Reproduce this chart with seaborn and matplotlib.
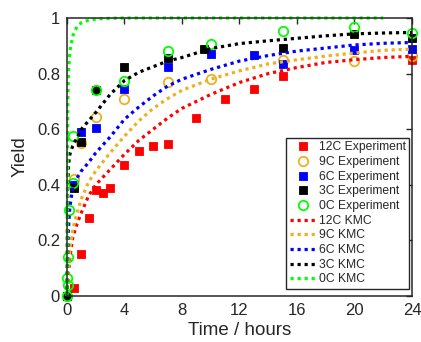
import matplotlib
matplotlib.use("Agg")
import matplotlib.pyplot as plt
import seaborn as sns
import numpy as np

# ---- Experimental data ----
t12 = [0.5, 1, 1.5, 2, 2.5, 3, 4, 5, 6, 7, 9, 11, 13, 15, 24]
y12 = [0.03, 0.15, 0.28, 0.38, 0.37, 0.39, 0.47, 0.52, 0.54, 0.545, 0.64, 0.71, 0.745, 0.79, 0.85]

t9 = [0, 0.5, 1, 2, 4, 7, 10, 15, 20, 24]
y9 = [0, 0.42, 0.55, 0.645, 0.71, 0.77, 0.78, 0.85, 0.845, 0.865]

t6 = [0, 0.5, 1, 2, 4, 7, 10, 13, 15, 20, 24]
y6 = [0, 0.40, 0.59, 0.605, 0.745, 0.825, 0.87, 0.868, 0.835, 0.885, 0.89]

t3 = [0, 0.5, 1, 2, 4, 7, 9.5, 15, 20, 24]
y3 = [0, 0.39, 0.553, 0.74, 0.825, 0.856, 0.888, 0.892, 0.942, 0.928]

t0 = [0, 0.05, 0.02, 0.07, 0.14, 0.42, 0.42, 2, 4, 7, 10, 15, 20, 24]
y0 = [0, 0.038, 0.063, 0.14, 0.308, 0.405, 0.577, 0.74, 0.775, 0.88, 0.906, 0.952, 0.967, 0.946]

# ---- KMC curves ----
tk = [0, 0.05, 0.1, 0.2, 0.4, 0.7, 1, 1.5, 2, 3, 4, 5, 6, 7, 8, 10, 12, 14, 16, 18, 20, 22, 24]
k12 = [0, 0.05, 0.08, 0.14, 0.21, 0.26, 0.3, 0.36, 0.40, 0.455, 0.51, 0.56, 0.60, 0.64, 0.675, 0.725, 0.768, 0.80, 0.822, 0.84, 0.85, 0.858, 0.862]
k9 = [0, 0.06, 0.10, 0.17, 0.24, 0.30, 0.35, 0.41, 0.45, 0.515, 0.575, 0.63, 0.675, 0.71, 0.74, 0.78, 0.81, 0.835, 0.85, 0.863, 0.874, 0.884, 0.888]
k6 = [0, 0.15, 0.24, 0.32, 0.39, 0.425, 0.45, 0.48, 0.515, 0.572, 0.636, 0.68, 0.72, 0.755, 0.78, 0.815, 0.845, 0.865, 0.881, 0.892, 0.903, 0.909, 0.912]
k3 = [0, 0.38, 0.47, 0.51, 0.54, 0.57, 0.60, 0.63, 0.66, 0.725, 0.775, 0.805, 0.825, 0.845, 0.858, 0.89, 0.908, 0.918, 0.927, 0.936, 0.943, 0.946, 0.948]
tk0 = [0, 0.03, 0.06, 0.1, 0.2, 0.4, 0.7, 1, 1.5, 2, 3, 4, 6, 8, 10, 12, 14, 16, 18, 20, 22]
k0 = [0, 0.4, 0.7, 0.8, 0.88, 0.935, 0.97, 0.983, 0.992, 0.996, 0.999, 1, 1, 1, 1, 1, 1, 1, 1, 1, 1]

RED = "#ff0000"
ORANGE = "#edb120"
BLUE = "#0000ff"
BLACK = "#000000"
GREEN = "#00ff00"
AXC = "#262626"

sns.set_style("white")
plt.rcParams["font.family"] = ["Liberation Sans", "DejaVu Sans"]

fig = plt.figure(figsize=(4.21, 3.42), dpi=100)
ax = fig.add_axes([67 / 421, 1 - 296 / 342, (412 - 67) / 421, (296 - 18) / 342])

exp_specs = [
    (t12, y12, RED, "s", True, "12C Experiment"),
    (t9, y9, ORANGE, "o", False, "9C Experiment"),
    (t6, y6, BLUE, "s", True, "6C Experiment"),
    (t3, y3, BLACK, "s", True, "3C Experiment"),
    (t0, y0, GREEN, "o", False, "0C Experiment"),
]
handles = []
for t, y, c, m, filled, lab in exp_specs:
    sns.lineplot(x=t, y=y, ax=ax, estimator=None, sort=False, linestyle="",
                 marker=m, markersize=6.0 if filled else 6.8,
                 markerfacecolor=c if filled else "none",
                 markeredgecolor=c, markeredgewidth=0.6 if filled else 1.3,
                 color=c, label=lab, legend=False)
    ln = ax.lines[-1]
    ln.set_clip_on(False)
    handles.append(ln)

kmc_specs = [
    (tk, k12, RED, "12C KMC"),
    (tk, k9, ORANGE, "9C KMC"),
    (tk, k6, BLUE, "6C KMC"),
    (tk, k3, BLACK, "3C KMC"),
    (tk0, k0, GREEN, "0C KMC"),
]
for t, y, c, lab in kmc_specs:
    sns.lineplot(x=t, y=y, ax=ax, estimator=None, sort=False, color=c,
                 linewidth=2.3, linestyle=(0, (1, 1.2)), label=lab, legend=False)
    ln = ax.lines[-1]
    ln.set_clip_on(False)
    handles.append(ln)

ax.set_xlim(0, 24)
ax.set_ylim(0, 1)
ax.set_xticks([0, 4, 8, 12, 16, 20, 24])
ax.set_yticks([0, 0.2, 0.4, 0.6, 0.8, 1.0])
ax.set_yticklabels(["0", "0.2", "0.4", "0.6", "0.8", "1"])
ax.tick_params(direction="in", length=4, width=1.0, top=True, right=True,
               labelsize=12, colors=AXC, pad=5)
for s in ax.spines.values():
    s.set_visible(True)
    s.set_color(AXC)
    s.set_linewidth(1.1)

ax.set_xlabel("Time / hours", fontsize=13.5, color=AXC, labelpad=3)
ax.set_ylabel("Yield", fontsize=13.5, color=AXC, labelpad=6)

leg = ax.legend(handles, [h.get_label() for h in handles], loc="lower right",
                bbox_to_anchor=(0.992, 0.025), fontsize=8.7, handlelength=2.2,
                handletextpad=0.2, labelspacing=0.22, borderpad=0.3,
                borderaxespad=0, frameon=True, fancybox=False, framealpha=1)
leg.get_frame().set_edgecolor(AXC)
leg.get_frame().set_linewidth(1.0)
for txt in leg.get_texts():
    txt.set_color(AXC)

fig.savefig("out.png", dpi=100, facecolor="white")
